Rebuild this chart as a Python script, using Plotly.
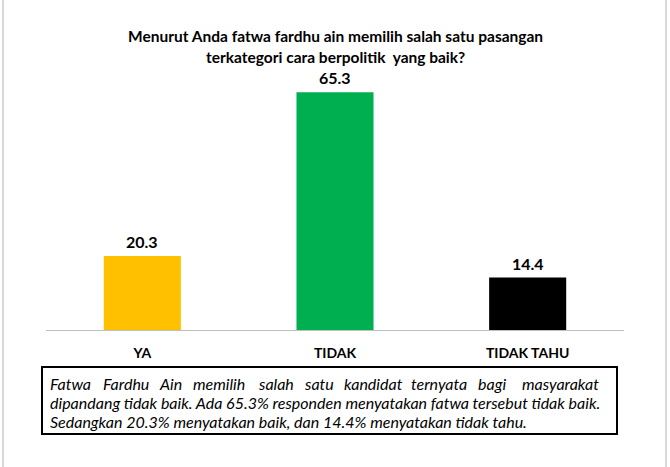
import plotly.graph_objects as go

# ---- data ----
categories = ["YA", "TIDAK", "TIDAK TAHU"]
values = [20.3, 65.3, 14.4]
colors = ["#FFC000", "#00B050", "#000000"]
title_lines = ["Menurut Anda fatwa fardhu ain memilih salah satu pasangan",
               "terkategori cara berpolitik  yang baik?"]
note_line1_words = ["Fatwa", "Fardhu", "Ain", "memilih", "salah", "satu",
                    "kandidat", "ternyata", "bagi", "masyarakat"]
note_line2 = "dipandang tidak baik. Ada 65.3% responden menyatakan fatwa tersebut tidak baik."
note_line3 = "Sedangkan 20.3% menyatakan baik, dan 14.4% menyatakan tidak tahu."

# ---- layout geometry (pixels) ----
W, H = 670, 467
ML, MR, MT, MB = 46, 46, 20, 137
PW = W - ML - MR
PH = H - MT - MB
YMAX = PH / 3.64

def px2x(px):
    return (px - ML) / PW

def py2y(py):
    return (H - MB - py) / PH

FONT = "Lato"

fig = go.Figure(go.Bar(
    x=categories, y=values, marker=dict(color=colors, line=dict(width=0)),
    width=0.4, hoverinfo="skip",
))

annotations = []
# value labels
for c, v in zip(categories, values):
    annotations.append(dict(x=c, y=v, xref="x", yref="y", text=f"<b>{v}</b>",
                            showarrow=False, yanchor="bottom", yshift=3,
                            font=dict(family=FONT, size=16, color="#000")))
# title (two lines)
for line, py in zip(title_lines, [36, 57]):
    annotations.append(dict(x=px2x(335), y=py2y(py), xref="paper", yref="paper",
                            text=f"<b>{line}</b>",
                            showarrow=False, xanchor="center", yanchor="middle",
                            font=dict(family=FONT, size=15.5, color="#000")))
# note line 1 (justified: words spread across the box)
word_px = [48, 101, 157, 191, 256, 302, 342, 409, 476, 520]
for w, p in zip(note_line1_words, word_px):
    annotations.append(dict(x=px2x(p), y=py2y(383), xref="paper", yref="paper",
                            text=f"<i>{w}</i>", showarrow=False,
                            xanchor="left", yanchor="middle",
                            font=dict(family=FONT, size=16, color="#000")))
for txt, py in [(note_line2, 402), (note_line3, 421)]:
    annotations.append(dict(x=px2x(48), y=py2y(py), xref="paper", yref="paper",
                            text=f"<i>{txt}</i>", showarrow=False,
                            xanchor="left", yanchor="middle",
                            font=dict(family=FONT, size=16, color="#000")))

shapes = [
    dict(type="rect", xref="paper", yref="paper",
         x0=px2x(42), x1=px2x(617), y0=py2y(367), y1=py2y(434),
         line=dict(color="#000", width=2), fillcolor="rgba(0,0,0,0)"),
    dict(type="line", xref="paper", yref="paper",
         x0=px2x(3), x1=px2x(3), y0=py2y(0), y1=py2y(H),
         line=dict(color="#D9D9D9", width=2)),
    dict(type="line", xref="paper", yref="paper",
         x0=px2x(666), x1=px2x(666), y0=py2y(0), y1=py2y(H),
         line=dict(color="#D9D9D9", width=2)),
]

fig.update_layout(
    width=W, height=H,
    margin=dict(l=ML, r=MR, t=MT, b=MB),
    paper_bgcolor="#FFFFFF", plot_bgcolor="#FFFFFF",
    showlegend=False,
    annotations=annotations, shapes=shapes,
    font=dict(family=FONT, color="#000"),
    xaxis=dict(showline=True, linecolor="#BFBFBF", linewidth=1,
               showgrid=False, ticks="", ticklabelstandoff=10,
               tickfont=dict(family=FONT, size=14, color="#000", weight="bold"),
               fixedrange=True),
    yaxis=dict(range=[0, YMAX], visible=False, showgrid=False,
               zeroline=False, fixedrange=True),
)

fig.write_html("out.html", config={"displayModeBar": False})
